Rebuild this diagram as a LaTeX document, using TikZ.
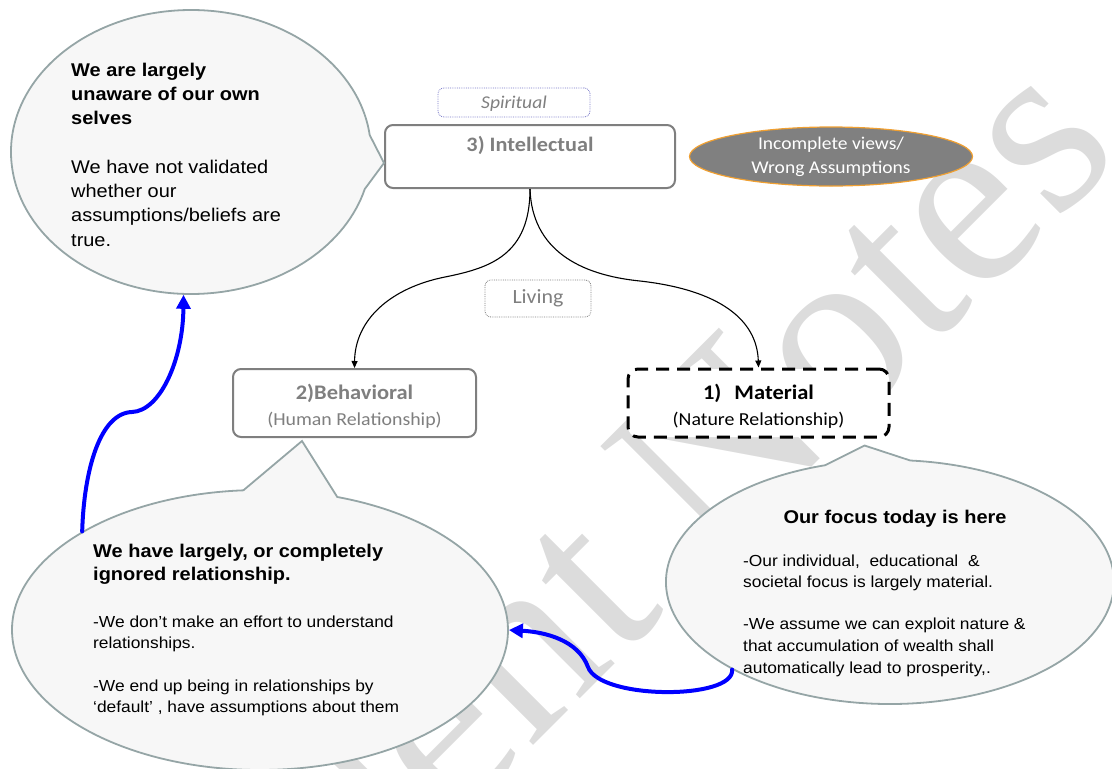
\documentclass[tikz,border=0pt]{standalone}
\usepackage{fontspec}
\setmainfont{Liberation Sans}[FakeStretch=1.085]
\newfontfamily\calibfont{Carlito}[FakeStretch=1.085]
\newfontfamily\wmfont{Liberation Serif}
\usetikzlibrary{shapes.geometric,shapes.callouts,arrows.meta,calc}

\definecolor{bubbleline}{RGB}{149,165,166}
\definecolor{bubblefill}{RGB}{247,247,247}
\definecolor{boxgray}{RGB}{127,127,127}
\definecolor{spiritblue}{RGB}{120,120,200}
\definecolor{ovalfill}{RGB}{128,128,128}
\definecolor{ovalline}{RGB}{240,160,50}
\definecolor{wmgray}{RGB}{220,220,220}
\definecolor{linkblue}{RGB}{0,0,255}

\begin{document}
\begin{tikzpicture}[x=1pt,y=-1pt,
  watermark/.style={font=\wmfont\fontsize{250}{250}\selectfont, text=wmgray, inner sep=0pt},
  graybox/.style={rectangle, rounded corners=8pt, draw=boxgray, line width=2pt, fill=white,
    align=center, text=boxgray, inner sep=0pt},
  matbox/.style={rectangle, rounded corners=10pt, draw=black, line width=3pt,
    dash pattern=on 13pt off 8pt, fill=white, align=center, text=black, inner sep=0pt},
  tagbox/.style={rectangle, rounded corners=6pt, line width=0.8pt, densely dotted,
    fill=white, inner sep=0pt},
  oval/.style={ellipse, fill=ovalfill, draw=ovalline, line width=1.2pt, inner sep=0pt,
    align=center, text=white},
  bubble/.style={ellipse callout, draw=bubbleline, line width=1.8pt, fill=bubblefill,
    inner sep=0pt, callout pointer arc=22},
  headtext/.style={anchor=north west, align=left, inner sep=0pt,
    font=\bfseries\fontsize{18.4}{24.3}\selectfont},
  bodytext/.style={anchor=north west, align=left, inner sep=0pt,
    font=\fontsize{18.4}{24.3}\selectfont},
  smalltext/.style={anchor=north west, align=left, inner sep=0pt,
    font=\fontsize{16}{21.3}\selectfont},
  blacklink/.style={draw=black, line width=1.1pt, -{Triangle[length=7pt,width=6pt]}},
  bluelink/.style={draw=linkblue, line width=4pt, line cap=round,
    -{Triangle[length=14pt,width=14pt]}}
]
\useasboundingbox (0,0) rectangle (1112,769);

% background watermark
\node[watermark, rotate=45, anchor=base east] (wm) at (1124,155) {Student Notes};

% the three levels and their tags
\node[graybox, minimum width=290pt, minimum height=63pt, text height=14pt, text depth=25pt,
  font=\calibfont\bfseries\fontsize{20.5}{25}\selectfont] (intel) at (530,156.5) {3) Intellectual};
\node[tagbox, draw=spiritblue, minimum width=152pt, minimum height=29pt, text=boxgray,
  text height=12pt, text depth=1pt,
  font=\calibfont\itshape\fontsize{18}{22}\selectfont] (spirit) at (514,102.5) {Spiritual};
\node[oval, minimum width=283pt, minimum height=59pt,
  font=\calibfont\fontsize{18}{24}\selectfont] (wrong) at (831,156.5)
  {Incomplete views/\\Wrong Assumptions};
\node[tagbox, draw=boxgray, minimum width=106pt, minimum height=37pt, text=boxgray,
  font=\calibfont\fontsize{20.2}{24}\selectfont] (living) at (538,298.5) {Living};
\node[graybox, minimum width=243pt, minimum height=68pt,
  font=\calibfont\fontsize{18.3}{26}\selectfont] (behav) at (354.5,403)
  {\rule{0pt}{21.7pt}{\bfseries\fontsize{20.7}{26}\selectfont 2)Behavioral}\\(Human Relationship)};
\node[matbox, minimum width=261pt, minimum height=68pt,
  font=\calibfont\fontsize{18.3}{26}\selectfont] (mat) at (758.5,403)
  {\rule{0pt}{21.7pt}{\bfseries\fontsize{20.7}{26}\selectfont 1)\hspace*{13pt}Material}\\(Nature Relationship)};

% speech bubbles
\node[bubble, minimum width=360pt, minimum height=284pt,
  callout absolute pointer={($(intel.south west)!0.4!(intel.north west)$)}] (bub1) at (191,152) {};
\node[bubble, minimum width=496pt, minimum height=280pt,
  callout absolute pointer={($(behav.south west)+(70,3)$)}] (bub2) at (260,630) {};
\node[bubble, minimum width=448pt, minimum height=244pt,
  callout absolute pointer={($(mat.south east)+(-26,7)$)}] (bub3) at (890,582) {};

% bubble texts
\node[headtext] (b1head) at (71,62.8) {We are largely\\unaware of our own\\selves};
\node[bodytext] (b1body) at (71,159.8) {We have not validated\\whether our\\assumptions/beliefs are\\true.};

\node[headtext, font=\bfseries\fontsize{18.4}{23.5}\selectfont] (b2head) at (93,543.8)
  {We have largely, or completely\\ignored relationship.};
\node[smalltext] (b2p1) at (93,615.5) {-We don’t make an effort to understand\\relationships.};
\node[smalltext] (b2p2) at (93,679.5) {-We end up being in relationships by\\‘default’ , have assumptions about them};

\node[anchor=base, inner sep=0pt, font=\bfseries\fontsize{18.4}{24}\selectfont] (b3head) at (895,523)
  {Our focus today is here};
\node[smalltext] (b3p1) at (743,554.5) {-Our individual,\ \ educational\ \ \&\\societal focus is largely material.};
\node[smalltext, font=\fontsize{16}{22}\selectfont] (b3p2) at (743,617.5)
  {-We assume we can exploit nature \&\\that accumulation of wealth shall\\automatically lead to prosperity,.};

% connectors between the levels
\draw[blacklink] (intel.south) .. controls (530,255) and (490,268) .. (445,277)
  .. controls (390,288) and (355,320) .. (behav.north);
\draw[blacklink] (intel.south) .. controls (532,250) and (580,275) .. (640,281)
  .. controls (720,290) and (757,320) .. (mat.north);

% blue links between the bubbles
\draw[bluelink] (bub2.151) .. controls (84,470) and (100,413) .. (132,412)
  .. controls (160,411) and (183,360) .. (bub1.267);
\draw[bluelink] (bub3.209) .. controls (735,700) and (600,700) .. (588,667)
  .. controls (578,640) and (545,632) .. (bub2.east);
\end{tikzpicture}
\end{document}
